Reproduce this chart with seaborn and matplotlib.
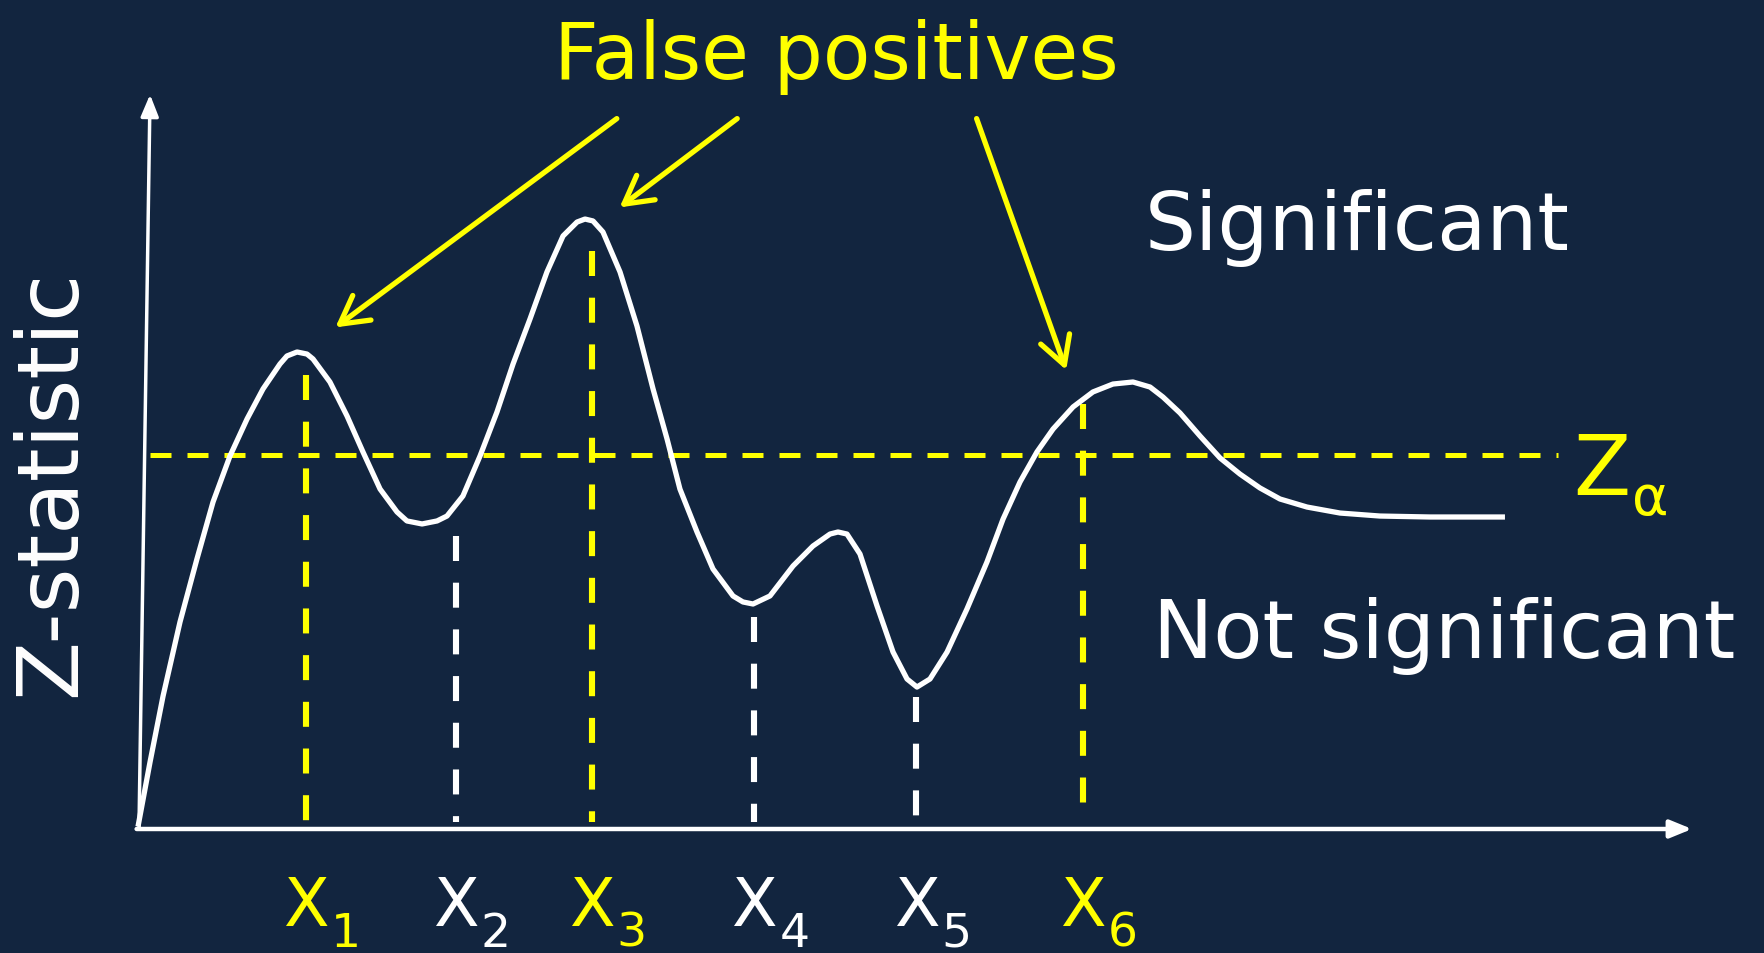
import matplotlib
matplotlib.use("Agg")
import matplotlib.pyplot as plt
import seaborn as sns

sns.set_style("white")
plt.rcParams['font.family'] = ['DejaVu Sans']

# ---------------- data ----------------
curve_x = [0.0, 0.86, 1.79, 3.0, 4.21, 5.36, 6.57, 7.79, 8.93, 10.14, 10.64, 11.36, 12.07,
           12.5, 13.71, 14.93, 16.07, 17.29, 18.5, 19.21, 20.29, 21.36, 22.07, 23.21, 24.43,
           25.64, 26.79, 28.0, 29.21, 30.36, 31.36, 31.93, 32.5, 33.21, 34.43, 35.64, 36.79,
           37.79, 38.71, 39.93, 41.07, 42.5, 43.21, 43.93, 45.14, 46.79, 48.21, 49.43, 50.0,
           50.64, 51.57, 52.79, 53.93, 54.93, 55.64, 56.57, 57.79, 59.21, 60.64, 61.79, 63.0,
           64.21, 65.36, 66.79, 68.21, 69.64, 71.07, 72.29, 73.21, 74.43, 75.86, 77.29, 78.71,
           80.14, 81.57, 83.5, 85.86, 88.71, 92.29, 97.64]
curve_z = [0.2, 5.58, 11.08, 17.25, 22.5, 27.25, 31.08, 34.17, 36.67, 38.75, 39.42, 39.75, 39.58,
           39.17, 37.25, 34.42, 31.42, 28.33, 26.42, 25.67, 25.42, 25.67, 26.08, 27.75, 31.08,
           34.75, 38.75, 42.5, 46.42, 49.42, 50.58, 50.83, 50.67, 49.75, 46.42, 41.92, 36.67,
           32.5, 28.33, 24.75, 21.67, 19.42, 18.92, 18.75, 19.42, 21.92, 23.58, 24.58, 24.75,
           24.58, 22.92, 18.58, 14.75, 12.5, 11.83, 12.5, 14.75, 18.33, 22.25, 25.83, 28.92,
           31.42, 33.33, 35.17, 36.42, 37.08, 37.25, 36.83, 36.0, 34.67, 32.75, 30.92, 29.58,
           28.42, 27.5, 26.83, 26.33, 26.08, 26.0, 26.0]

marker_x = [12.0, 22.7, 32.4, 44.0, 55.6, 67.5]
marker_top = [37.8, 24.4, 48.2, 17.7, 11.0, 35.4]
marker_sub = ["1", "2", "3", "4", "5", "6"]
false_positive = [True, False, True, False, False, True]
z_alpha = 31.2

title_text = "False positives"
sig_text = "Significant"
nonsig_text = "Not significant"
ylabel_text = "Z-statistic"

# ---------------- style ----------------
BG = "#12253F"
YEL = "#FFFF00"
WHITE = "#FFFFFF"

fig = plt.figure(figsize=(17.64, 9.54), dpi=100, facecolor=BG)
ax = fig.add_axes([0, 0, 1, 1])
ax.set_facecolor(BG)
ax.set_xlim(-138 / 14, (1764 - 138) / 14)
ax.set_ylim((830 - 954) / 12, 830 / 12)
ax.set_axis_off()

# axes with arrows
ax.annotate("", xy=(111.0, 0.0), xytext=(-0.1, 0.0),
            arrowprops=dict(arrowstyle="-|>,head_length=1.1,head_width=0.45", color=WHITE,
                            lw=3.2, mutation_scale=12, shrinkA=0, shrinkB=0))
ax.annotate("", xy=(0.86, 61.2), xytext=(0.07, 0.0),
            arrowprops=dict(arrowstyle="-|>,head_length=1.1,head_width=0.45", color=WHITE,
                            lw=2.5, mutation_scale=12, shrinkA=0, shrinkB=0))

# threshold line
ax.plot([0.86, 101.4], [z_alpha, z_alpha], color=YEL, lw=3.6, dashes=(4.2, 3.2),
        dash_capstyle="butt")

# vertical dashed markers (drawn from the top down)
for xm, top, fp in zip(marker_x, marker_top, false_positive):
    ax.plot([xm, xm], [top, 0.6], color=YEL if fp else WHITE, lw=4.4,
            dashes=(4.09, 3.55), dash_capstyle="butt")

# curve
sns.lineplot(x=curve_x, y=curve_z, ax=ax, color=WHITE, lw=3.8, sort=False,
             estimator=None, legend=False, solid_joinstyle="round",
             solid_capstyle="butt")

# X labels
for xm, sub, fp in zip(marker_x, marker_sub, false_positive):
    c = YEL if fp else WHITE
    ax.text(xm, -8.0, "X", color=c, fontsize=48, ha="center", va="baseline")
    ax.text(xm + 1.8, -9.75, sub, color=c, fontsize=34, ha="left", va="baseline")

# Z alpha label
ax.text(102.5, 27.9, "Z", color=YEL, fontsize=60, ha="left", va="baseline")
ax.text(106.7, 26.25, "α", color=YEL, fontsize=40, ha="left", va="baseline")

# titles / annotations
ax.text(49.86, 62.6, title_text, color=YEL, fontsize=56, ha="center", va="baseline")
ax.text(71.93, 48.3, sig_text, color=WHITE, fontsize=58, ha="left", va="baseline")
ax.text(72.5, 14.3, nonsig_text, color=WHITE, fontsize=58, ha="left", va="baseline")
ax.text(-6.2, 28.9, ylabel_text, color=WHITE, fontsize=62, ha="center", va="center",
        rotation=90)

# arrows to false positives
arrow_tails = [(34.2, 59.2), (42.8, 59.2), (59.9, 59.2)]
arrow_tips = [(14.1, 41.8), (34.4, 51.8), (66.3, 38.25)]
for (tx, tz), (hx, hz) in zip(arrow_tails, arrow_tips):
    ax.annotate("", xy=(hx, hz), xytext=(tx, tz),
                arrowprops=dict(arrowstyle="->,head_length=0.9,head_width=0.5", color=YEL,
                                lw=3.8, mutation_scale=22, shrinkA=0, shrinkB=0))

fig.savefig("out.png", dpi=100, facecolor=BG)
